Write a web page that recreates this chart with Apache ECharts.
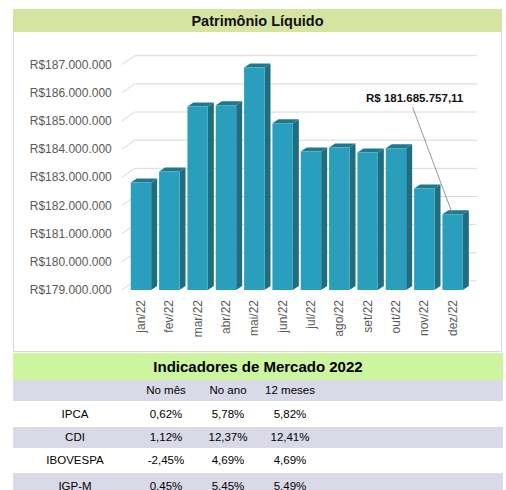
<!DOCTYPE html>
<html lang="pt-BR">
<head>
<meta charset="UTF-8">
<script src="https://cdn.jsdelivr.net/npm/echarts/dist/echarts.min.js"></script>
<style>
  body { margin: 0; background: #fff; font-family: "Liberation Sans", Arial, sans-serif; }
  #main { position: absolute; left: 0; top: 0; width: 506px; height: 490px; }
  #tabela { position: absolute; left: 13px; top: 353px; width: 490px; }
  #tabela .titulo { height: 27px; line-height: 27px; background: #cdf5a0; text-align: center;
                    font-weight: bold; font-size: 15px; color: #000; }
  #tabela .linha { position: relative; width: 490px; }
  #tabela .linha span { position: absolute; top: 0; width: 80px; text-align: center; font-size: 11.5px; color: #000; }
</style>
</head>
<body>
<div id="main"></div>
<div id="tabela"></div>
<script type="text/javascript">
    // dados do grafico
    var meses = ['jan/22', 'fev/22', 'mar/22', 'abr/22', 'mai/22', 'jun/22',
                 'jul/22', 'ago/22', 'set/22', 'out/22', 'nov/22', 'dez/22'];
    var patrimonio = [182820000, 183210000, 185520000, 185560000, 186900000, 184920000,
                      183920000, 184060000, 183880000, 184030000, 182600000, 181685757.11];
    var ticksY = [179000000, 180000000, 181000000, 182000000, 183000000,
                  184000000, 185000000, 186000000, 187000000];

    // dados da tabela
    var colunas = ['No mês', 'No ano', '12 meses'];
    var indicadores = ['IPCA', 'CDI', 'IBOVESPA', 'IGP-M'];
    var noMes = ['0,62%', '1,12%', '-2,45%', '0,45%'];
    var noAno = ['5,78%', '12,37%', '4,69%', '5,45%'];
    var dozeMeses = ['5,82%', '12,41%', '4,69%', '5,49%'];

    function milhar(v) {
        return String(Math.floor(v)).replace(/\B(?=(\d{3})+(?!\d))/g, '.');
    }
    function reais(v) {
        var cent = Math.round(v * 100) % 100;
        return 'R$ ' + milhar(v) + ',' + (cent < 10 ? '0' : '') + cent;
    }

    var fonte = '"Liberation Sans", Arial, sans-serif';
    var dx = 10, dy = 9;

    var myChart = echarts.init(document.getElementById('main'), null, { renderer: 'svg' });

    var option = {
        animation: false,
        graphic: [
            { type: 'rect', z: -10, shape: { x: 13.5, y: 31.5, width: 488, height: 320 },
              style: { fill: '#fff', stroke: '#d9d9d9', lineWidth: 1 } },
            { type: 'rect', z: -9, shape: { x: 13, y: 9, width: 489, height: 23 },
              style: { fill: '#d6e4a2' } },
            { type: 'text', z: -8, x: 257.5, y: 20.5,
              style: { text: 'Patrimônio Líquido', font: 'bold 14.5px ' + fonte, fill: '#111',
                       align: 'center', verticalAlign: 'middle' } }
        ],
        grid: { left: 126.8, right: 39.2, top: 64.7, bottom: 200, outerBoundsMode: 'none' },
        xAxis: {
            type: 'category',
            data: meses,
            axisLine: { show: false },
            axisTick: { show: false },
            axisLabel: { rotate: 90, margin: 10, fontSize: 12, color: '#595959', fontFamily: fonte }
        },
        yAxis: {
            type: 'value',
            min: 179000000,
            max: 187000000,
            interval: 1000000,
            splitLine: { show: false },
            axisLine: { show: false },
            axisTick: { show: false },
            axisLabel: {
                margin: 15, fontSize: 12, color: '#595959', fontFamily: fonte,
                formatter: function (v) { return 'R$' + milhar(v); }
            }
        },
        series: [
            {
                // paredes e linhas de grade em 3D
                type: 'custom',
                z: 1,
                clip: false,
                silent: true,
                data: ticksY.map(function (v) { return [0, v]; }),
                renderItem: function (params, api) {
                    var p = api.coord([0, api.value(1)]);
                    var banda = api.size([1, 0])[0];
                    var x0 = p[0] - banda / 2;
                    var x1 = x0 + banda * meses.length;
                    return {
                        type: 'polyline',
                        shape: { points: [[x0 - 5, p[1]], [x0 + 8, p[1] - dy], [x1 + dx, p[1] - dy]] },
                        style: { stroke: '#d9d9d9', lineWidth: 1, fill: null }
                    };
                }
            },
            {
                // colunas 3D
                type: 'custom',
                z: 2,
                clip: false,
                data: patrimonio.map(function (v, i) { return [i, v]; }),
                encode: { x: 0, y: 1 },
                renderItem: function (params, api) {
                    var i = api.value(0), v = api.value(1);
                    var topo = api.coord([i, v]);
                    var base = api.coord([i, 179000000]);
                    var banda = api.size([1, 0])[0];
                    var w = banda * 0.72, d = 6, h = 4;
                    var x0 = topo[0] - w / 2, x1 = x0 + w;
                    var yt = topo[1], yb = base[1];
                    var filhos = [
                        { type: 'polygon',
                          shape: { points: [[x1, yt], [x1 + d, yt - h], [x1 + d, yb - h], [x1, yb]] },
                          style: { fill: '#1f6d80' } },
                        { type: 'polygon',
                          shape: { points: [[x0, yt], [x0 + d, yt - h], [x1 + d, yt - h], [x1, yt]] },
                          style: { fill: '#1d7890' } },
                        { type: 'rect', shape: { x: x0, y: yt, width: w, height: yb - yt },
                          style: { fill: '#2a9fbd' } }
                    ];
                    if (i === patrimonio.length - 1) {
                        filhos.push({ type: 'line',
                            shape: { x1: topo[0] - 40, y1: yt - 107, x2: topo[0], y2: yt },
                            style: { stroke: '#7f7f7f', lineWidth: 0.8 } });
                        filhos.push({ type: 'text',
                            style: { text: reais(v), x: topo[0] - 38, y: yt - 116,
                                     font: 'bold 11.5px ' + fonte, fill: '#111',
                                     align: 'center', verticalAlign: 'middle' } });
                    }
                    return { type: 'group', children: filhos };
                }
            }
        ]
    };

    myChart.setOption(option);

    // tabela de indicadores
    var tabela = document.getElementById('tabela');
    var alturas = [21, 26, 21, 25, 26];
    var centros = [62, 153, 215, 277];
    var html = '<div class="titulo">Indicadores de Mercado 2022</div>';
    var linhas = [[''].concat(colunas)];
    for (var i = 0; i < indicadores.length; i++) {
        linhas.push([indicadores[i], noMes[i], noAno[i], dozeMeses[i]]);
    }
    for (var r = 0; r < linhas.length; r++) {
        var fundo = (r % 2 === 0) ? '#d9d9e8' : '#fff';
        html += '<div class="linha" style="height:' + alturas[r] + 'px;background:' + fundo + '">';
        for (var c = 0; c < linhas[r].length; c++) {
            html += '<span style="left:' + (centros[c] - 40) + 'px;line-height:' + alturas[r] + 'px">' +
                    linhas[r][c] + '</span>';
        }
        html += '</div>';
    }
    tabela.innerHTML = html;
</script>
</body>
</html>
